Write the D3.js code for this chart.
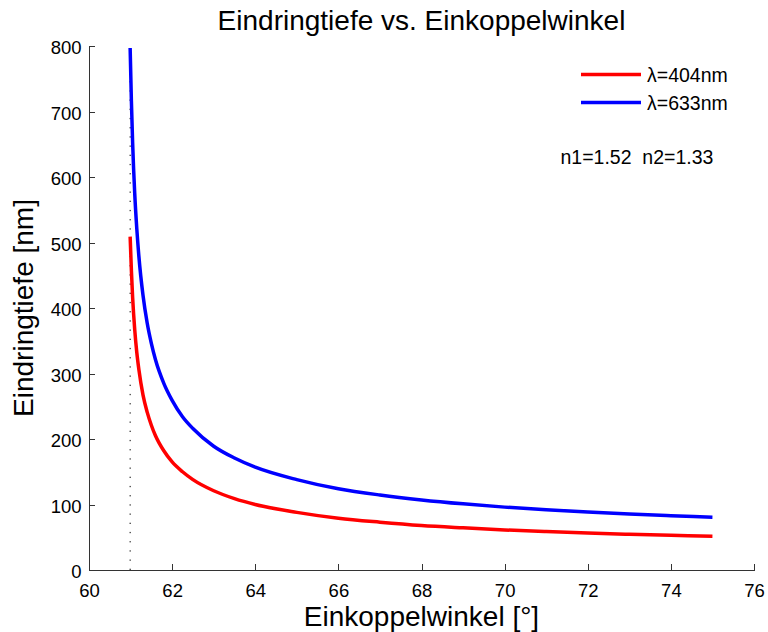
<!DOCTYPE html>
<html>
<head>
<meta charset="utf-8">
<script src="https://cdn.jsdelivr.net/npm/d3@7"></script>
<style>
    body { margin: 0; background: #fff; }
    svg { display: block; font-family: "Liberation Sans", Arial, Helvetica, sans-serif; }
    .axis path, .axis line { stroke: #333; stroke-width: 1; shape-rendering: crispEdges; }
    .axis text { fill: #000; font-size: 18.5px; }
    .label { font-size: 28px; fill: #000; }
    .legend-text { font-size: 19.5px; fill: #000; }
</style>
</head>
<body>
<div id="chart"></div>
<script>
// angles in degrees, penetration depth in nm
const angles = [60.99, 61.02, 61.05, 61.1, 61.15, 61.2, 61.3, 61.4, 61.5, 61.6, 61.8, 62.0, 62.25, 62.5, 63, 63.5, 64, 65, 66, 67, 68, 69, 70, 71, 72, 73, 74, 75]
const depth404 = [509, 457, 416, 367, 332, 306, 267, 241, 221, 205, 182, 165, 150, 138, 121, 109, 100, 88, 79, 73, 68, 64.4, 61.2, 58.6, 56.4, 54.5, 52.9, 51.5]
const depth633 = [797, 716, 652, 575, 521, 479, 419, 377, 346, 321, 285, 259, 234, 216, 189, 171, 157, 138, 124, 114.5, 107, 101, 96, 92, 88.4, 85.4, 82.9, 80.6]
const criticalAngle = 60.99

const xTicks = [60, 62, 64, 66, 68, 70, 72, 74, 76]
const yTicks = [0, 100, 200, 300, 400, 500, 600, 700, 800]

const seriesNames = ['\u03bb=404nm', '\u03bb=633nm']
const seriesColors = ['#ff0000', '#0000ff']
const noteText = 'n1=1.52  n2=1.33'

const layout = { left: 89, top: 46, width: 665, height: 524 }

const xScale = d3.scaleLinear().domain([60, 76]).range([0, layout.width])
const yScale = d3.scaleLinear().domain([0, 800]).range([layout.height, 0])

const svg = d3.select('#chart').append('svg')
    .attr('width', 768)
    .attr('height', 632)

const g = svg.append('g')
    .attr('transform', 'translate(' + layout.left + ',' + layout.top + ')')

// critical angle marker
g.append('line')
    .attr('x1', xScale(criticalAngle)).attr('x2', xScale(criticalAngle))
    .attr('y1', yScale(0)).attr('y2', yScale(800))
    .attr('stroke', '#000')
    .attr('stroke-width', 1)
    .attr('stroke-dasharray', '1.3,7.9')

const xAxisEl = g.append('g')
    .attr('class', 'axis')
    .attr('transform', 'translate(0,' + layout.height + ')')
    .call(d3.axisBottom(xScale).tickValues(xTicks).tickSizeInner(-6).tickSizeOuter(0).tickPadding(13.5).tickFormat(d3.format('d')))

const yAxisEl = g.append('g')
    .attr('class', 'axis')
    .call(d3.axisLeft(yScale).tickValues(yTicks).tickSizeInner(-6).tickSizeOuter(0).tickPadding(7.5).tickFormat(d3.format('d')))
yAxisEl.selectAll('text').attr('dy', '0.42em')

const series = [depth404, depth633].map((vals) => angles.map((a, i) => ({ x: a, y: vals[i] })))

const line = d3.line()
    .x((d) => xScale(d.x))
    .y((d) => yScale(d.y))
    .curve(d3.curveMonotoneX)

g.selectAll('.curve')
    .data(series)
    .enter()
    .append('path')
    .attr('class', 'curve')
    .attr('fill', 'none')
    .attr('stroke', (d, i) => seriesColors[i])
    .attr('stroke-width', 3.5)
    .attr('stroke-linejoin', 'round')
    .attr('d', line)

// legend
const legend = svg.append('g').attr('transform', 'translate(581,74.5)')
seriesNames.forEach((name, i) => {
    legend.append('line')
        .attr('x1', 0).attr('x2', 60)
        .attr('y1', i * 28).attr('y2', i * 28)
        .attr('stroke', seriesColors[i])
        .attr('stroke-width', 3.5)
    legend.append('text')
        .attr('class', 'legend-text')
        .attr('x', 66)
        .attr('y', i * 28 + 7)
        .text(name)
})

svg.append('text')
    .attr('class', 'legend-text')
    .attr('x', 560.5)
    .attr('y', 163.5)
    .attr('xml:space', 'preserve')
    .style('white-space', 'pre')
    .text(noteText)

svg.append('text')
    .attr('class', 'label')
    .attr('x', layout.left + layout.width / 2)
    .attr('y', 29.5)
    .attr('text-anchor', 'middle')
    .text('Eindringtiefe vs. Einkoppelwinkel')

svg.append('text')
    .attr('class', 'label')
    .attr('x', layout.left + layout.width / 2)
    .attr('y', 625.5)
    .attr('text-anchor', 'middle')
    .text('Einkoppelwinkel [°]')

svg.append('text')
    .attr('class', 'label')
    .attr('transform', 'rotate(-90)')
    .attr('x', -(layout.top + layout.height / 2))
    .attr('y', 32.5)
    .attr('text-anchor', 'middle')
    .text('Eindringtiefe [nm]')
</script>
</body>
</html>
